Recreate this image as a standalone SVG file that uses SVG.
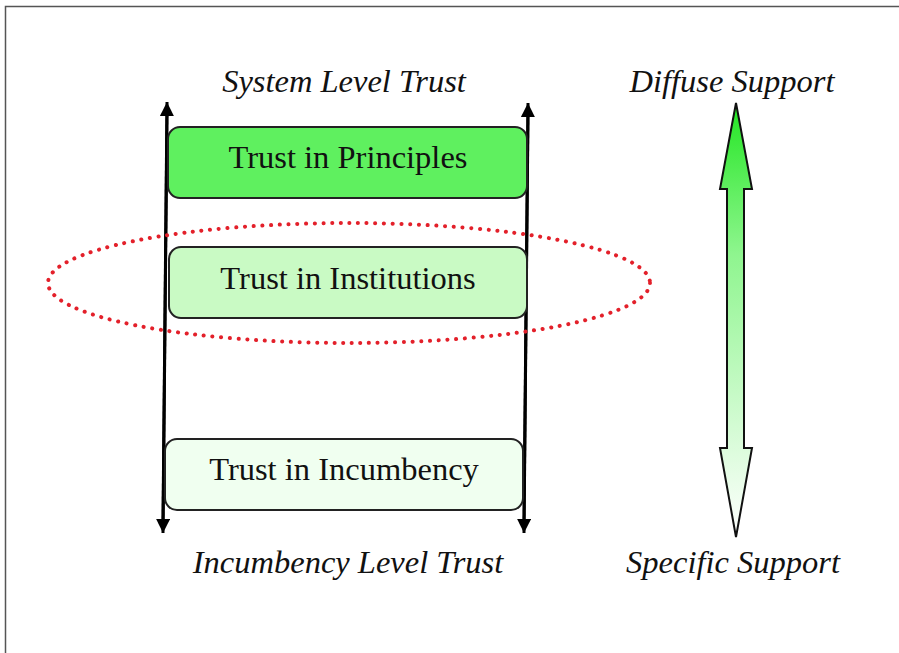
<svg xmlns="http://www.w3.org/2000/svg" width="899" height="653" viewBox="0 0 899 653">
<defs>
<linearGradient id="g" x1="0" y1="0" x2="0" y2="1">
<stop offset="0" stop-color="#22e622"/>
<stop offset="0.35" stop-color="#8ff58f"/>
<stop offset="1" stop-color="#ffffff"/>
</linearGradient>
<marker id="ah" viewBox="0 0 10 10" refX="10" refY="5" markerWidth="16" markerHeight="14" markerUnits="userSpaceOnUse" orient="auto">
<path d="M0,0 L10,5 L0,10 Z" fill="#000"/>
</marker>
<style>
.lbl{font-family:"Liberation Serif","Times New Roman",serif;font-style:italic;font-size:32.5px;fill:#111;text-anchor:middle}
.box text{font-family:"Liberation Serif","Times New Roman",serif;font-size:32.5px;fill:#111;text-anchor:middle}
.box rect{stroke:#222;stroke-width:2}
.ax{stroke:#000;stroke-width:3;fill:none}
</style>
</defs>
<rect width="899" height="653" fill="#fff"/>
<rect id="frame" x="5.5" y="6.5" width="900" height="660" fill="none" stroke="#555" stroke-width="1.5"/>
<g id="connectors">
<line class="ax" x1="163" y1="520" x2="167" y2="102" marker-end="url(#ah)"/>
<line class="ax" x1="167" y1="115" x2="163" y2="533" marker-end="url(#ah)"/>
<line class="ax" x1="524" y1="520" x2="528" y2="103" marker-end="url(#ah)"/>
<line class="ax" x1="528" y1="115" x2="524" y2="533" marker-end="url(#ah)"/>
</g>
<g id="principles" class="box">
<rect x="168" y="127" width="359" height="71" rx="12" fill="#5ff05f"/>
<text x="348" y="168">Trust in Principles</text>
</g>
<g id="institutions" class="box">
<rect x="169" y="247" width="358" height="71" rx="12" fill="#c9fac4"/>
<text x="348" y="289">Trust in Institutions</text>
</g>
<g id="incumbency" class="box">
<rect x="165" y="439" width="358" height="71" rx="12" fill="#f0fff0"/>
<text x="344" y="480">Trust in Incumbency</text>
</g>
<ellipse id="highlight" cx="349" cy="283" rx="301" ry="60" fill="none" stroke="#e3202a" stroke-width="4" stroke-dasharray="0.1 8.6" stroke-linecap="round"/>
<g id="support-arrow">
<path d="M736,103 L752,189 L744,189 L744,448 L752,448 L736,537 L720,448 L727,448 L727,189 L720,189 Z" fill="url(#g)" stroke="#111" stroke-width="2" stroke-linejoin="miter"/>
</g>
<text class="lbl" x="344" y="92">System Level Trust</text>
<text class="lbl" x="348" y="573">Incumbency Level Trust</text>
<text class="lbl" x="732" y="92">Diffuse Support</text>
<text class="lbl" x="733" y="573">Specific Support</text>
</svg>
